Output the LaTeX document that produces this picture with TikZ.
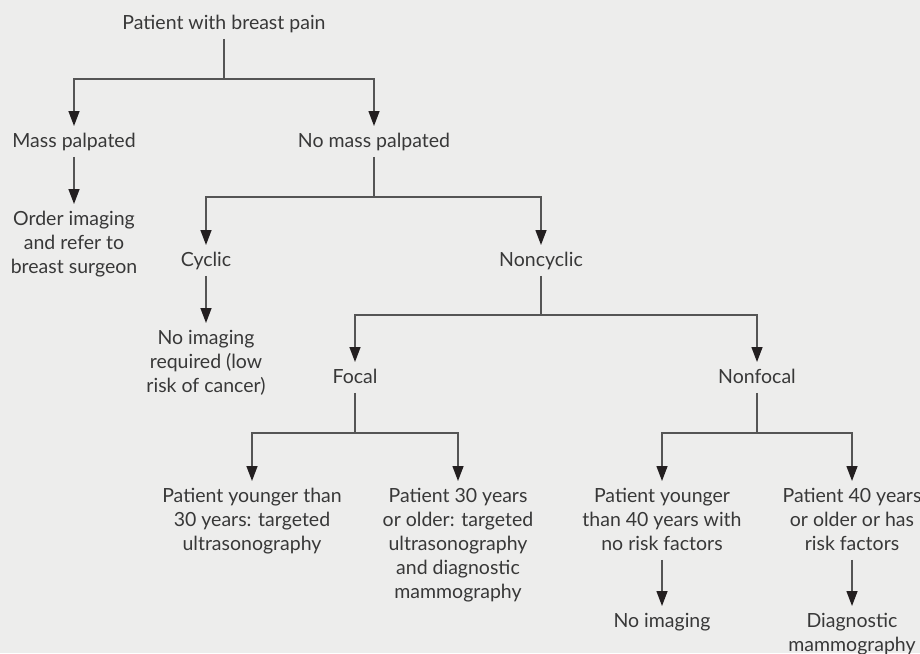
\documentclass[tikz,border=0pt]{standalone}
\usepackage{fontspec}
\setmainfont{Lato}
\usetikzlibrary{arrows.meta}
\definecolor{bgc}{HTML}{EDEDEC}
\definecolor{txt}{HTML}{383838}
\definecolor{lnc}{HTML}{555555}
\definecolor{tipc}{HTML}{231F20}
\newcommand\sst{\rule[-5pt]{0pt}{19pt}}
\tikzset{
  lbl/.style={anchor=north, inner sep=0pt, outer sep=0pt, align=center, text=txt,
              font=\fontsize{19.5}{24}\selectfont},
  ln/.style={draw=lnc, line width=1.4pt, shorten <=4.5pt},
  arr/.style={draw=lnc, line width=1.4pt, shorten >=7pt,
              -{Triangle[length=15pt,width=11pt,color=tipc]}},
  arrfull/.style={ln, arr}
}
\begin{document}
\begin{tikzpicture}[x=1pt,y=-1pt]
\fill[bgc] (0,0) rectangle (920,653);
\useasboundingbox (0,0) rectangle (920,653);

\node[lbl] (root) at (224,15) {\sst Patient with breast pain};
\node[lbl] (mass) at (74,133) {\sst Mass palpated};
\node[lbl] (nomass) at (374,133) {\sst No mass palpated};
\node[lbl] (order) at (74,211) {\sst Order imaging\\and refer to\\breast surgeon\sst};
\node[lbl] (cyclic) at (206,252) {\sst Cyclic};
\node[lbl] (noncyclic) at (541,252) {\sst Noncyclic};
\node[lbl] (noimgA) at (206,330) {\sst No imaging\\required (low\\risk of cancer)\sst};
\node[lbl] (focal) at (355,369) {\sst Focal};
\node[lbl] (nonfocal) at (757,369) {\sst Nonfocal};
\node[lbl] (b1) at (252,488) {\sst Patient younger than\\30 years: targeted\\ultrasonography\sst};
\node[lbl] (b2) at (458,488) {\sst Patient 30 years\\or older: targeted\\ultrasonography\\and diagnostic\\mammography\sst};
\node[lbl] (b3) at (662,488) {\sst Patient younger\\than 40 years with\\no risk factors\sst};
\node[lbl] (b4) at (852,488) {\sst Patient 40 years\\or older or has\\risk factors\sst};
\node[lbl] (noimgB) at (662,613) {\sst No imaging};
\node[lbl] (diag) at (852,613) {\sst Diagnostic\\mammography\sst};

\coordinate (j1) at (224,79);
\coordinate (j2) at (374,197);
\coordinate (j3) at (541,315);
\coordinate (j4) at (355,433);
\coordinate (j5) at (757,433);

\draw[ln] (root) -- (j1);
\draw[arr] (j1) -| (mass);
\draw[arr] (j1) -| (nomass);
\draw[arrfull] (mass) -- (order);

\draw[ln] (nomass) -- (j2);
\draw[arr] (j2) -| (cyclic);
\draw[arr] (j2) -| (noncyclic);
\draw[arrfull] (cyclic) -- (noimgA);

\draw[ln] (noncyclic) -- (j3);
\draw[arr] (j3) -| (focal);
\draw[arr] (j3) -| (nonfocal);

\draw[ln] (focal) -- (j4);
\draw[arr] (j4) -| (b1);
\draw[arr] (j4) -| (b2);

\draw[ln] (nonfocal) -- (j5);
\draw[arr] (j5) -| (b3);
\draw[arr] (j5) -| (b4);
\draw[arrfull] (b3) -- (noimgB);
\draw[arrfull] (b4) -- (diag);
\end{tikzpicture}
\end{document}
